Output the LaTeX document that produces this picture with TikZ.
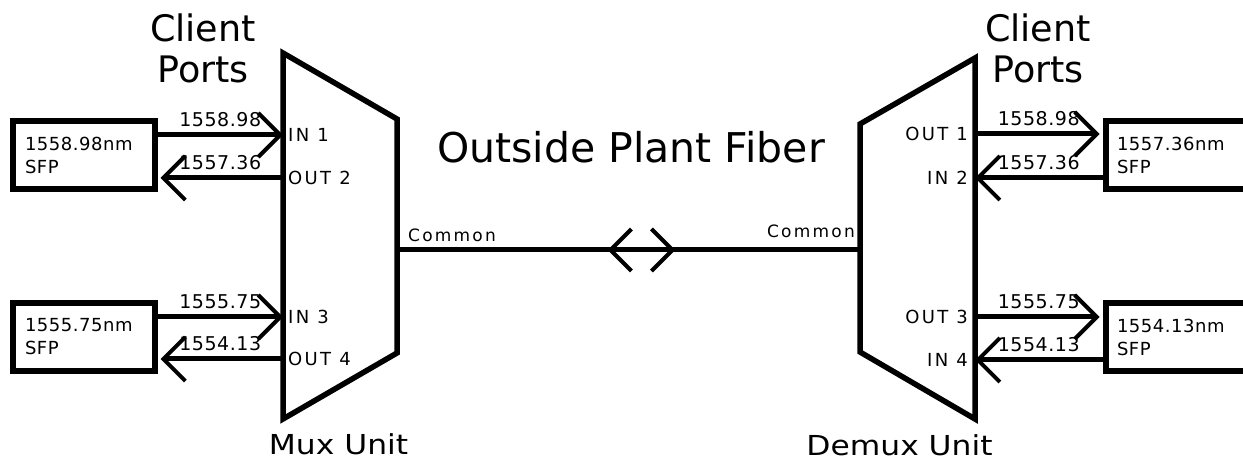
\documentclass[tikz,border=0pt]{standalone}
\usepackage{fontspec}
\setmainfont{DejaVu Sans}
\newfontfamily\numf[LetterSpace=3]{DejaVu Sans}
\newfontfamily\portf[LetterSpace=13]{DejaVu Sans}
\usetikzlibrary{arrows.meta,decorations.markings,calc}
\begin{document}
\begin{tikzpicture}[x=1pt,y=-1pt,
  unit/.style={line width=5.5pt, line join=miter},
  sfpbox/.style={draw, line width=6pt, minimum height=68pt, inner xsep=12pt, inner ysep=0pt,
     align=left, font=\numf\fontsize{18}{23}\selectfont},
  sig/.style={line width=5pt, -{Straight Barb[length=22pt,width=44pt,line width=4pt]}},
  lbl/.style={font=\numf\fontsize{19}{20}\selectfont, inner sep=0pt},
  portlbl/.style={font=\portf\fontsize{18}{20}\selectfont, inner sep=0pt},
  titlelbl/.style={font=\fontsize{36.5}{41}\selectfont, align=center, inner sep=0pt},
  unitlbl/.style={font=\fontsize{27.5}{32}\selectfont, inner sep=0pt},
  commonlbl/.style={font=\portf\fontsize{17}{20}\selectfont, inner sep=0pt},
  fiber/.style={line width=5pt,
     postaction={decorate, decoration={markings,
       mark=at position 0.528 with {
         \draw[line width=4pt] (-10pt,21pt) -- (-31pt,0pt) -- (-10pt,-21pt);
         \draw[line width=4pt] (10pt,21pt) -- (31pt,0pt) -- (10pt,-21pt);}}}}
]
\useasboundingbox (0,0) rectangle (1243,462);
\clip (0,0) rectangle (1243,462);
\fill[white] (0,0) rectangle (1243,462);

% Mux unit
\draw[unit] (283,53) -- (397,119) -- (397,353) -- (283,419) -- cycle;
\coordinate (in1) at (283,135);
\coordinate (out2) at (283,178);
\coordinate (in3) at (283,317);
\coordinate (out4) at (283,359);
\coordinate (comA) at (397,250);

% Demux unit
\draw[unit] (975,58) -- (860,124) -- (860,352) -- (975,419) -- cycle;
\coordinate (out1) at (975,134);
\coordinate (in2) at (975,178);
\coordinate (out3) at (975,317);
\coordinate (in4) at (975,360);
\coordinate (comB) at (860,250);

% SFP boxes
\node[sfpbox, text width=117.5pt] (sfpA) at (83.75,155.5) {1558.98nm\\SFP};
\node[sfpbox, text width=117.5pt] (sfpB) at (83.75,337) {1555.75nm\\SFP};
\node[sfpbox, text width=140pt, inner xsep=11.5pt] (sfpC) at (1187,155.5) {1557.36nm\\SFP};
\node[sfpbox, text width=140pt, inner xsep=11.5pt] (sfpD) at (1187,337) {1554.13nm\\SFP};

% left arrows
\draw[sig] (sfpA.east |- in1) -- node[lbl, above=5.5pt] {1558.98} (in1);
\draw[sig, shorten >=3pt] (out2) -- node[lbl, above=5.5pt] {1557.36} (sfpA.east |- out2);
\draw[sig] (sfpB.east |- in3) -- node[lbl, above=5.5pt] {1555.75} (in3);
\draw[sig, shorten >=3pt] (out4) -- node[lbl, above=5.5pt] {1554.13} (sfpB.east |- out4);

% right arrows
\draw[sig, shorten >=3pt] (out1) -- node[lbl, above=5.5pt] {1558.98} (sfpC.west |- out1);
\draw[sig] (sfpC.west |- in2) -- node[lbl, above=5.5pt] {1557.36} (in2);
\draw[sig, shorten >=3pt] (out3) -- node[lbl, above=5.5pt] {1555.75} (sfpD.west |- out3);
\draw[sig] (sfpD.west |- in4) -- node[lbl, above=5.5pt] {1554.13} (in4);

% port labels
\node[portlbl, anchor=west] (pin1) at ($(in1)+(5,0)$) {IN 1};
\node[portlbl, anchor=west] (pout2) at ($(out2)+(5,0)$) {OUT 2};
\node[portlbl, anchor=west] (pin3) at ($(in3)+(5,0)$) {IN 3};
\node[portlbl, anchor=west] (pout4) at ($(out4)+(5,0)$) {OUT 4};
\node[portlbl, anchor=east] (pout1) at ($(out1)+(-7,0)$) {OUT 1};
\node[portlbl, anchor=east] (pin2) at ($(in2)+(-7,0)$) {IN 2};
\node[portlbl, anchor=east] (pout3) at ($(out3)+(-7,0)$) {OUT 3};
\node[portlbl, anchor=east] (pin4) at ($(in4)+(-7,0)$) {IN 4};

% fiber
\draw[fiber] (comA) -- (comB);
\node[commonlbl, anchor=base west] (cA) at (408,242) {Common};
\node[commonlbl, anchor=base east] (cB) at (855,238) {Common};

% titles
\node[titlelbl, anchor=base] (cpA) at (203,83) {Client\\Ports};
\node[titlelbl, anchor=base] (cpB) at (1038,83) {Client\\Ports};
\node[font=\fontsize{41}{48}\selectfont, inner sep=0pt, anchor=base] (opf) at (631,163) {Outside Plant Fiber};
\node[unitlbl, anchor=base] (mux) at (338.5,454) {\scalebox{1.14}[1]{Mux Unit}};
\node[unitlbl, anchor=base] (demux) at (899.5,455) {\scalebox{1.14}[1]{Demux Unit}};
\end{tikzpicture}
\end{document}
